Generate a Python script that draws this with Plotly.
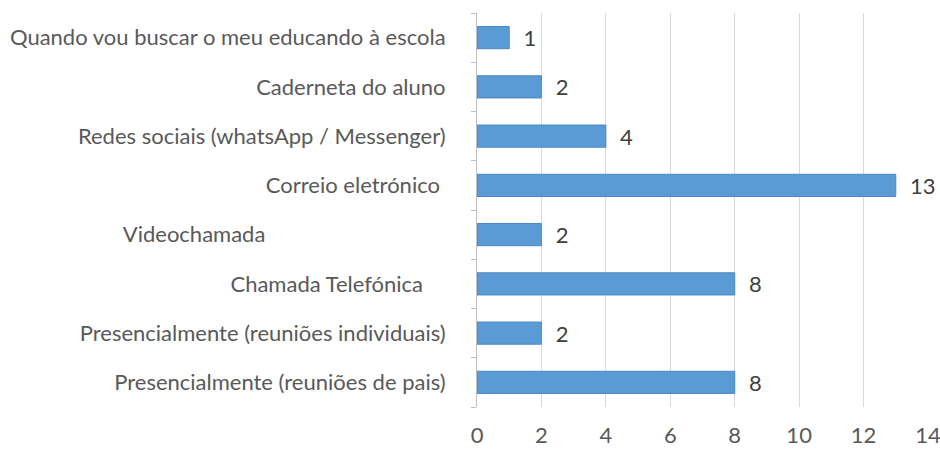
import plotly.graph_objects as go

categories = [
    "Presencialmente (reuniões de pais)",
    "Presencialmente (reuniões individuais)",
    "Chamada Telefónica",
    "Videochamada",
    "Correio eletrónico",
    "Redes sociais (whatsApp / Messenger)",
    "Caderneta do aluno",
    "Quando vou buscar o meu educando à escola",
]
values = [8, 2, 8, 2, 13, 4, 2, 1]
# trailing spaces present in the original labels
trailing = [0, 0, 4, 32, 1, 0, 0, 0]
x_ticks = [0, 2, 4, 6, 8, 10, 12, 14]

tick_text = [c + "\u00a0" * n for c, n in zip(categories, trailing)]

FONT = "Lato"
FS = 22

fig = go.Figure()
fig.add_trace(go.Bar(
    y=categories,
    x=values,
    orientation="h",
    width=0.45,
    marker=dict(color="#5B9BD5", line=dict(color="#4A88C6", width=1)),
    text=[f"\u00a0\u00a0{v}" for v in values],
    textposition="outside",
    textfont=dict(family=FONT, size=FS, color="#404040"),
    cliponaxis=False,
    hoverinfo="skip",
))

fig.update_layout(
    width=940, height=451,
    margin=dict(l=477, r=12, t=13, b=44, autoexpand=False),
    paper_bgcolor="white", plot_bgcolor="white",
    showlegend=False,
    font=dict(family=FONT, size=FS, color="#595959"),
    bargap=0.55,
    uniformtext=dict(minsize=FS, mode="show"),
)
fig.update_xaxes(
    range=[0, 14], tickvals=x_ticks, automargin=False,
    showgrid=True, gridcolor="#D9D9D9", gridwidth=1,
    zeroline=False, showline=False,
    tickfont=dict(family=FONT, size=FS, color="#595959"),
    ticks="", ticklabelstandoff=13, ticklabeloverflow="allow",
)
fig.update_yaxes(
    categoryorder="array", categoryarray=categories,
    tickvals=categories, ticktext=tick_text, automargin=False,
    showline=True, linecolor="#BFBFBF", linewidth=1,
    ticks="outside", ticklen=5, tickcolor="#BFBFBF", tickson="boundaries",
    showgrid=False, zeroline=False,
    tickfont=dict(family=FONT, size=FS, color="#595959"),
    ticklabelstandoff=26,
)
fig.write_html(
    "out.html",
    config={"displayModeBar": False, "staticPlot": True},
    post_script="document.body.style.margin='0';document.body.style.overflow='hidden';",
)
